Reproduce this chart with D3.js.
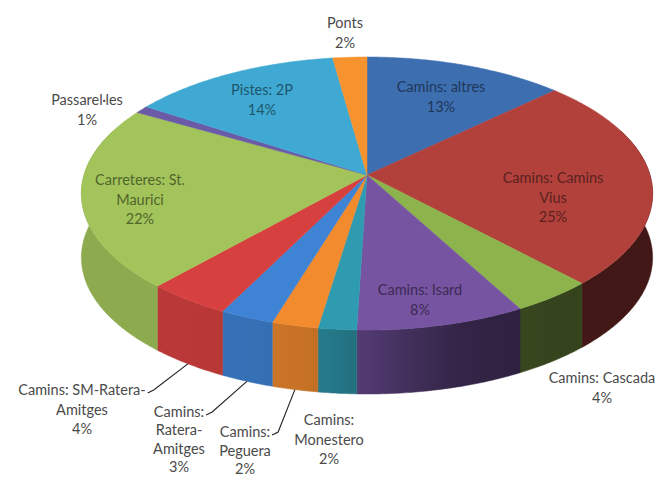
<!DOCTYPE html>
<html><head><meta charset="utf-8">
<script src="https://cdn.jsdelivr.net/npm/d3@7"></script>
<style>html,body{margin:0;padding:0;background:#fff;} svg{display:block;}</style>
</head><body>
<svg id="chart" width="661" height="478"></svg>
<script>
// ---- data ----
const categories = ["Camins: altres", "Camins: Camins Vius", "Camins: Cascada", "Camins: Isard",
  "Camins: Monestero", "Camins: Peguera", "Camins: Ratera-Amitges", "Camins: SM-Ratera-Amitges",
  "Carreteres: St. Maurici", "Passarel·les", "Pistes: 2P", "Ponts"];
const values = [12.9, 25.1, 4.1, 8.4, 1.9, 2.3, 2.7, 4.2, 21.7, 0.9, 13.6, 2.2];
const labelLines = [["Camins: altres"], ["Camins: Camins", "Vius"], ["Camins: Cascada"], ["Camins: Isard"],
  ["Camins:", "Monestero"], ["Camins:", "Peguera"], ["Camins:", "Ratera-", "Amitges"], ["Camins: SM-Ratera-", "Amitges"],
  ["Carreteres: St.", "Maurici"], ["Passarel·les"], ["Pistes: 2P"], ["Ponts"]];
const sliceColors = ["#3d6eb0", "#b2413c", "#8db44c", "#7654a2", "#2f9bb0", "#f28a2e",
  "#3f83d4", "#d6413f", "#a2c45a", "#6b5aa6", "#3fa9d3", "#f7932f"];

// ---- layout (label anchors: centre of first text line) ----
const labelLayout = {
  "Camins: altres": {x: 441, y: 87, inside: true},
  "Camins: Camins Vius": {x: 553, y: 178, inside: true},
  "Camins: Cascada": {x: 602, y: 378},
  "Camins: Isard": {x: 420, y: 290, inside: true},
  "Camins: Monestero": {x: 329, y: 420},
  "Camins: Peguera": {x: 245, y: 432, leader: true, lh: 18.5},
  "Camins: Ratera-Amitges": {x: 179, y: 412, leader: true, lh: 18.3},
  "Camins: SM-Ratera-Amitges": {x: 82, y: 390, leader: true},
  "Carreteres: St. Maurici": {x: 140, y: 180, inside: true},
  "Passarel·les": {x: 87, y: 100},
  "Pistes: 2P": {x: 262, y: 90, inside: true},
  "Ponts": {x: 345, y: 23}
};
const lineH = 19.5;

const cx = 367, cy = 175, a = 283, b = 134, k = 0.1355, depth = 64;
function proj(theta, r = 1) {
  const u = r * Math.sin(theta), v = -r * Math.cos(theta);
  const w = 1 - k * v;
  return [cx + a * u / w, cy + b * v / w];
}
const xMin = cx - a / Math.sqrt(1 - k * k), xMax = cx + a / Math.sqrt(1 - k * k);

const data = categories.map((c, i) => ({name: c, value: values[i], lines: labelLines[i]}));
const pie = d3.pie().sort(null).value(d => d.value);
const arcs = pie(data);
const color = d3.scaleOrdinal().domain(categories).range(sliceColors);
const total = d3.sum(values);
const pct = d3.format(".0%");

const svg = d3.select("#chart");
const defs = svg.append("defs");
const gSide = svg.append("g"), gTop = svg.append("g"), gLab = svg.append("g");

// ---- side shading gradients ----
const shade = u => 0.62 - 0.25 * Math.tanh(3.5 * (u - 0.08));
const xs = d3.scaleLinear().domain([0, 1]).range([xMin, xMax]);
arcs.forEach((d, i) => {
  const g = defs.append("linearGradient").attr("id", "side" + i)
    .attr("gradientUnits", "userSpaceOnUse")
    .attr("x1", xMin).attr("x2", xMax).attr("y1", 0).attr("y2", 0);
  d3.range(0, 1.0001, 0.025).forEach(t => {
    const u = (xs(t) - cx) / (xMax - cx);
    g.append("stop").attr("offset", t)
      .attr("stop-color", d3.interpolateRgb("#000", color(d.data.name))(shade(u)));
  });
});

// ---- sides (one path per slice, front-facing part) ----
const step = Math.PI / 360;
function sidePath(d) {
  const lo = Math.max(d.startAngle, Math.PI / 2 - 0.35), hi = Math.min(d.endAngle, 1.5 * Math.PI + 0.35);
  if (hi <= lo) return null;
  const n = Math.max(2, Math.ceil((hi - lo) / step));
  const top = d3.range(n + 1).map(i => proj(lo + (hi - lo) * i / n));
  const bot = top.slice().reverse().map(p => [p[0], p[1] + depth]);
  return d3.line()(top.concat(bot)) + "Z";
}
gSide.selectAll("path").data(arcs.filter(d => sidePath(d))).join("path")
  .attr("d", sidePath)
  .attr("fill", d => `url(#side${d.index})`)
  .attr("stroke", d => `url(#side${d.index})`)
  .attr("stroke-width", 0.5);

// ---- top faces ----
gTop.selectAll("path").data(arcs).join("path")
  .attr("d", d => {
    const n = Math.max(2, Math.ceil((d.endAngle - d.startAngle) / step));
    const pts = [[cx, cy]];
    for (let i = 0; i <= n; i++) pts.push(proj(d.startAngle + (d.endAngle - d.startAngle) * i / n));
    return d3.line()(pts) + "Z";
  })
  .attr("fill", d => color(d.data.name))
  .attr("stroke", d => color(d.data.name))
  .attr("stroke-width", 0.5);

// ---- labels ----
arcs.forEach(d => {
  const L = labelLayout[d.data.name];
  const lh = L.lh || lineH;
  const lines = d.data.lines.concat([pct(d.data.value / total)]);
  const fill = L.inside ? d3.color(color(d.data.name)).darker(1.9).formatHex() : "#4a4a4a";
  const t = gLab.append("text")
    .attr("font-family", "Lato, 'Open Sans', sans-serif")
    .attr("font-size", "14.5px")
    .attr("fill", fill)
    .attr("text-anchor", "middle");
  const spans = lines.map((s, i) => t.append("tspan")
    .attr("x", L.x).attr("y", L.y + i * lh).attr("dy", "0.35em").text(s));
  if (L.leader) {
    const w = spans[0].node().getComputedTextLength();
    const xr = L.x + w / 2;
    const mid = (d.startAngle + d.endAngle) / 2;
    const p = proj(mid);
    const end = [p[0], p[1] + depth];
    gLab.append("path")
      .attr("d", d3.line()([[xr + 2, L.y + 3], [xr + 8, L.y], end]))
      .attr("fill", "none").attr("stroke", "#222").attr("stroke-width", 1.1);
  }
});
</script>
</body></html>
